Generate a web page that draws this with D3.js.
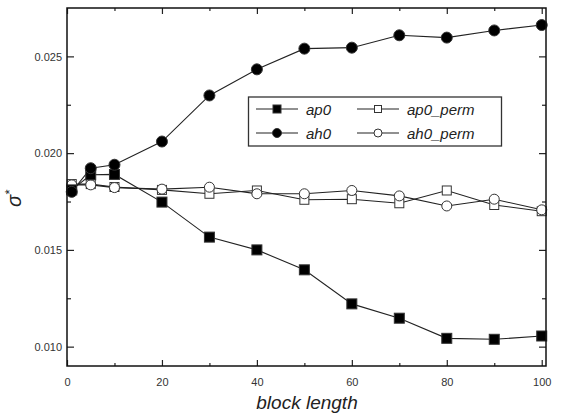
<!DOCTYPE html>
<html><head><meta charset="utf-8">
<script src="https://cdn.jsdelivr.net/npm/d3@7/dist/d3.min.js"></script>
<style>body{margin:0;background:#fff}svg{display:block}</style>
</head><body>
<svg id="c" width="562" height="414"></svg>
<script>
const blockLength = [1, 5, 10, 20, 30, 40, 50, 60, 70, 80, 90, 100];
const ap0      = [0.0181, 0.01888, 0.0189, 0.01747, 0.01566, 0.0150, 0.01397, 0.01221, 0.01147, 0.01043, 0.01038, 0.01055];
const ah0      = [0.0180, 0.01922, 0.0194, 0.0206, 0.02298, 0.02433, 0.0254, 0.02545, 0.02609, 0.02597, 0.02634, 0.02662];
const ap0_perm = [0.0184, 0.0184, 0.01825, 0.0181, 0.0179, 0.01807, 0.01759, 0.01762, 0.01741, 0.01807, 0.01732, 0.0170];
const ah0_perm = [0.01836, 0.01836, 0.01822, 0.01814, 0.01824, 0.0179, 0.0179, 0.01807, 0.01779, 0.01727, 0.01762, 0.01707];
const xTicks = [0, 20, 40, 60, 80, 100];
const yTicks = [0.010, 0.015, 0.020, 0.025];
const seriesNames = ["ap0", "ah0", "ap0_perm", "ah0_perm"];

const svg = d3.select("#c");
const L = 67, R = 546, T = 8, B = 366;
const x = d3.scaleLinear().domain([0, 100.9]).range([L, R]);
const y = d3.scaleLinear().domain([0.009, 0.0275]).range([B, T]);

const series = [
  {name: "ap0", vals: ap0, shape: "square", fill: "#000"},
  {name: "ah0", vals: ah0, shape: "circle", fill: "#000"},
  {name: "ap0_perm", vals: ap0_perm, shape: "square", fill: "#fff"},
  {name: "ah0_perm", vals: ah0_perm, shape: "circle", fill: "#fff"}
];

const line = d3.line().x(d => x(d[0])).y(d => y(d[1]));
function marker(g, shape, fill, cx, cy) {
  const filled = fill === "#000";
  if (shape === "square") {
    const s = filled ? 10 : 9;
    g.append("rect").attr("x", cx - s/2).attr("y", cy - s/2).attr("width", s).attr("height", s)
      .attr("fill", fill).attr("stroke", "#333").attr("stroke-width", 1);
  } else {
    const r = filled ? 5.5 : 5;
    g.append("circle").attr("cx", cx).attr("cy", cy).attr("r", r)
      .attr("fill", fill).attr("stroke", "#333").attr("stroke-width", 1);
  }
}

const order = [2, 3, 0, 1];
order.forEach(i => {
  const s = series[i];
  const pts = blockLength.map((b, j) => [b, s.vals[j]]);
  svg.append("path").datum(pts).attr("d", line).attr("fill", "none").attr("stroke", "#222").attr("stroke-width", 1.1);
});
order.forEach(i => {
  const s = series[i];
  const g = svg.append("g");
  blockLength.forEach((b, j) => marker(g, s.shape, s.fill, x(b), y(s.vals[j])));
});

const fontTick = "Liberation Sans, Arial, sans-serif";
const xAxisB = d3.axisBottom(x).tickValues(xTicks).tickSize(-6).tickFormat(d3.format("d"));
const gxb = svg.append("g").attr("transform", `translate(0,${B})`).call(xAxisB);
const xAxisT = d3.axisTop(x).tickValues(xTicks).tickSize(-6).tickFormat("");
svg.append("g").attr("transform", `translate(0,${T})`).call(xAxisT);
const minorX = d3.range(10, 100, 20);
svg.append("g").attr("transform", `translate(0,${B})`).call(d3.axisBottom(x).tickValues(minorX).tickSize(-3).tickFormat(""));
svg.append("g").attr("transform", `translate(0,${T})`).call(d3.axisTop(x).tickValues(minorX).tickSize(-3).tickFormat(""));

const yAxisL = d3.axisLeft(y).tickValues(yTicks).tickSize(-7).tickFormat(d3.format(".3f"));
const gyl = svg.append("g").attr("transform", `translate(${L},0)`).call(yAxisL);
const yAxisR = d3.axisRight(y).tickValues(yTicks).tickSize(-7).tickFormat("");
svg.append("g").attr("transform", `translate(${R},0)`).call(yAxisR);
const minorY = [0.0125, 0.0175, 0.0225];
svg.append("g").attr("transform", `translate(${L},0)`).call(d3.axisLeft(y).tickValues(minorY).tickSize(-4).tickFormat(""));
svg.append("g").attr("transform", `translate(${R},0)`).call(d3.axisRight(y).tickValues(minorY).tickSize(-4).tickFormat(""));

svg.selectAll(".domain").remove();
svg.selectAll(".tick line").attr("stroke", "#222").attr("stroke-width", 1.2);
svg.selectAll(".tick text").attr("font-family", fontTick).attr("font-size", 11).attr("fill", "#333");
gxb.selectAll(".tick text").attr("dy", "0.71em").attr("y", 12);
gyl.selectAll(".tick text").attr("x", -5).attr("dy", "0.35em");

svg.append("rect").attr("x", L).attr("y", T).attr("width", R - L).attr("height", B - T)
  .attr("fill", "none").attr("stroke", "#111").attr("stroke-width", 1.5);

svg.append("text").attr("x", 307).attr("y", 409).attr("text-anchor", "middle")
  .attr("font-family", fontTick).attr("font-style", "italic").attr("font-size", 19).attr("fill", "#222")
  .text("block length");
const yl = svg.append("text").attr("transform", "translate(21,207) rotate(-90)")
  .attr("font-family", fontTick).attr("font-style", "italic").attr("font-size", 20).attr("fill", "#222");
yl.append("tspan").text("σ");
yl.append("tspan").attr("dy", -7).attr("font-size", 13).text("*");

const lg = svg.append("g");
lg.append("rect").attr("x", 248.5).attr("y", 97).attr("width", 253).attr("height", 49)
  .attr("fill", "#fff").attr("stroke", "#333").attr("stroke-width", 1.3);
const legPos = [[256, 109], [256, 133], [357, 109], [357, 133]];
series.forEach((s, i) => {
  const [lx, ly] = legPos[i];
  lg.append("line").attr("x1", lx).attr("x2", lx + 42).attr("y1", ly).attr("y2", ly).attr("stroke", "#222").attr("stroke-width", 1.1);
  const filled = s.fill === "#000";
  if (s.shape === "square") {
    const sz = filled ? 8 : 7;
    lg.append("rect").attr("x", lx + 21 - sz/2).attr("y", ly - sz/2).attr("width", sz).attr("height", sz)
      .attr("fill", s.fill).attr("stroke", "#333");
  } else {
    lg.append("circle").attr("cx", lx + 21).attr("cy", ly).attr("r", filled ? 4.5 : 4)
      .attr("fill", s.fill).attr("stroke", "#333");
  }
  lg.append("text").attr("x", lx + 50).attr("y", ly + 5.5)
    .attr("font-family", fontTick).attr("font-style", "italic").attr("font-size", 15).attr("fill", "#222")
    .text(seriesNames[i]);
});
</script>
</body></html>
